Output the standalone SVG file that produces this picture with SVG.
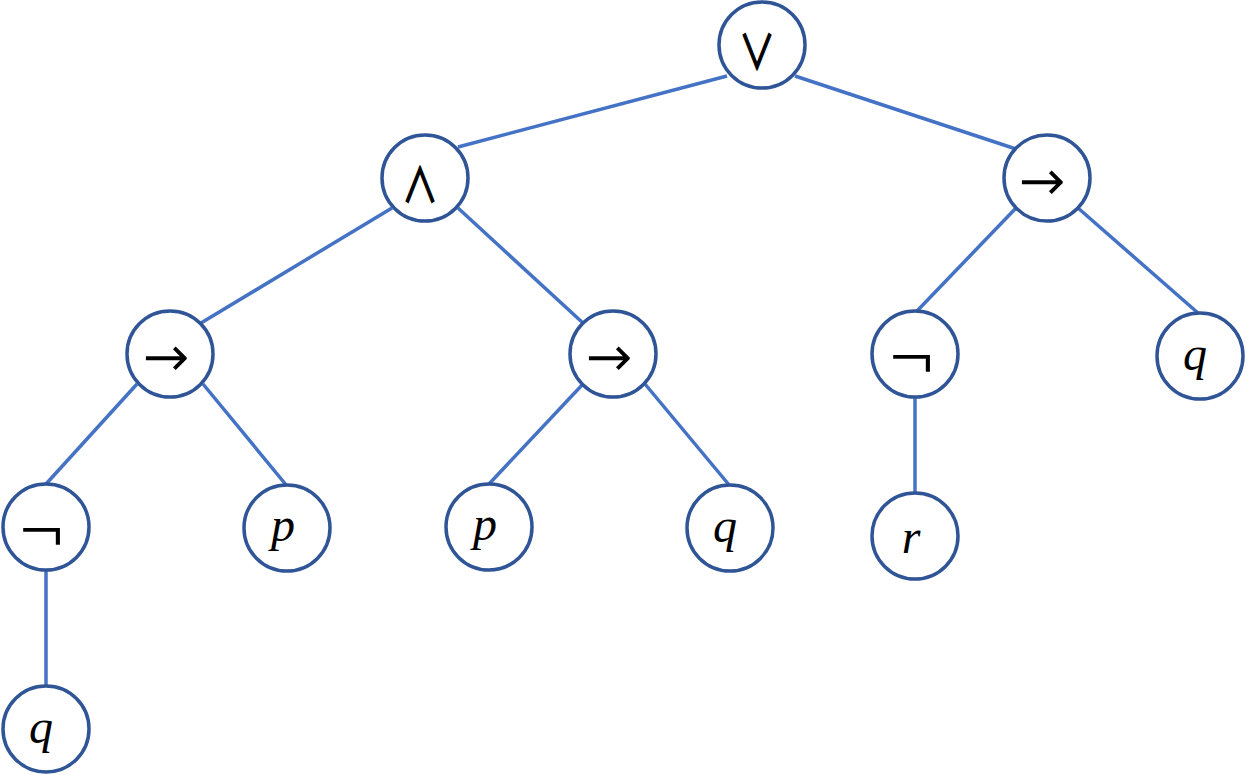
<svg xmlns="http://www.w3.org/2000/svg" width="1247" height="775" viewBox="0 0 1247 775">
<style>
.e{stroke:#4472C4;stroke-width:3.5;fill:none}
.n circle{fill:#fff;stroke:#2F5597;stroke-width:3.5}
.op{font-family:"DejaVu Sans ExtraLight","DejaVu Sans",sans-serif;font-weight:200;font-size:58px;text-anchor:middle;fill:#000;stroke:#000;stroke-width:1.3}
.lg{font-family:"Noto Sans CJK JP",sans-serif;font-weight:400;font-size:36px;text-anchor:middle;fill:#000;stroke:#000;stroke-width:1.1}
.ar{font-size:54px}
.v{font-family:"Liberation Serif",serif;font-style:italic;font-size:48px;text-anchor:middle;fill:#000}
</style>
<rect width="1247" height="775" fill="#fff"/>
<g id="connectors">
<line class="e" x1="727" y1="76" x2="458" y2="147"/>
<line class="e" x1="795" y1="76" x2="1016" y2="149"/>
<line class="e" x1="392" y1="208" x2="201" y2="323"/>
<line class="e" x1="458" y1="208" x2="583" y2="323"/>
<line class="e" x1="1016" y1="208" x2="917" y2="311"/>
<line class="e" x1="1078" y1="208" x2="1198" y2="313"/>
<line class="e" x1="137" y1="384" x2="46" y2="484"/>
<line class="e" x1="203" y1="384" x2="287" y2="486"/>
<line class="e" x1="583" y1="384" x2="489" y2="484"/>
<line class="e" x1="645" y1="384" x2="730" y2="486"/>
<line class="e" x1="915" y1="397" x2="915" y2="493"/>
<line class="e" x1="46" y1="570" x2="46" y2="686"/>
</g>
<g id="or" class="n"><circle cx="762" cy="45" r="43"/><text class="lg" transform="translate(757,69) scale(1,1.3)">∨</text></g>
<g id="and" class="n"><circle cx="425" cy="178" r="43"/><text class="lg" transform="translate(420,202) scale(1,1.3)">∧</text></g>
<g id="impR" class="n"><circle cx="1047" cy="178" r="43"/><text class="op ar" x="1042" y="199">→</text></g>
<g id="impL" class="n"><circle cx="170" cy="354" r="43"/><text class="op ar" x="166" y="375">→</text></g>
<g id="impM" class="n"><circle cx="613" cy="354" r="43"/><text class="op ar" x="609" y="375">→</text></g>
<g id="notR" class="n"><circle cx="915" cy="354" r="43"/><text class="op" x="912" y="379">¬</text></g>
<g id="qR" class="n"><circle cx="1200" cy="356" r="43"/><text class="v" x="1195" y="370">q</text></g>
<g id="notL" class="n"><circle cx="46" cy="527" r="43"/><text class="op" x="42" y="552">¬</text></g>
<g id="pL" class="n"><circle cx="287" cy="528" r="43"/><text class="v" x="283" y="541">p</text></g>
<g id="pM" class="n"><circle cx="489" cy="527" r="43"/><text class="v" x="485" y="540">p</text></g>
<g id="qM" class="n"><circle cx="730" cy="528" r="43"/><text class="v" x="725" y="542">q</text></g>
<g id="r" class="n"><circle cx="915" cy="536" r="43"/><text class="v" x="911" y="553">r</text></g>
<g id="qB" class="n"><circle cx="46" cy="729" r="43"/><text class="v" x="41" y="743">q</text></g>
</svg>
